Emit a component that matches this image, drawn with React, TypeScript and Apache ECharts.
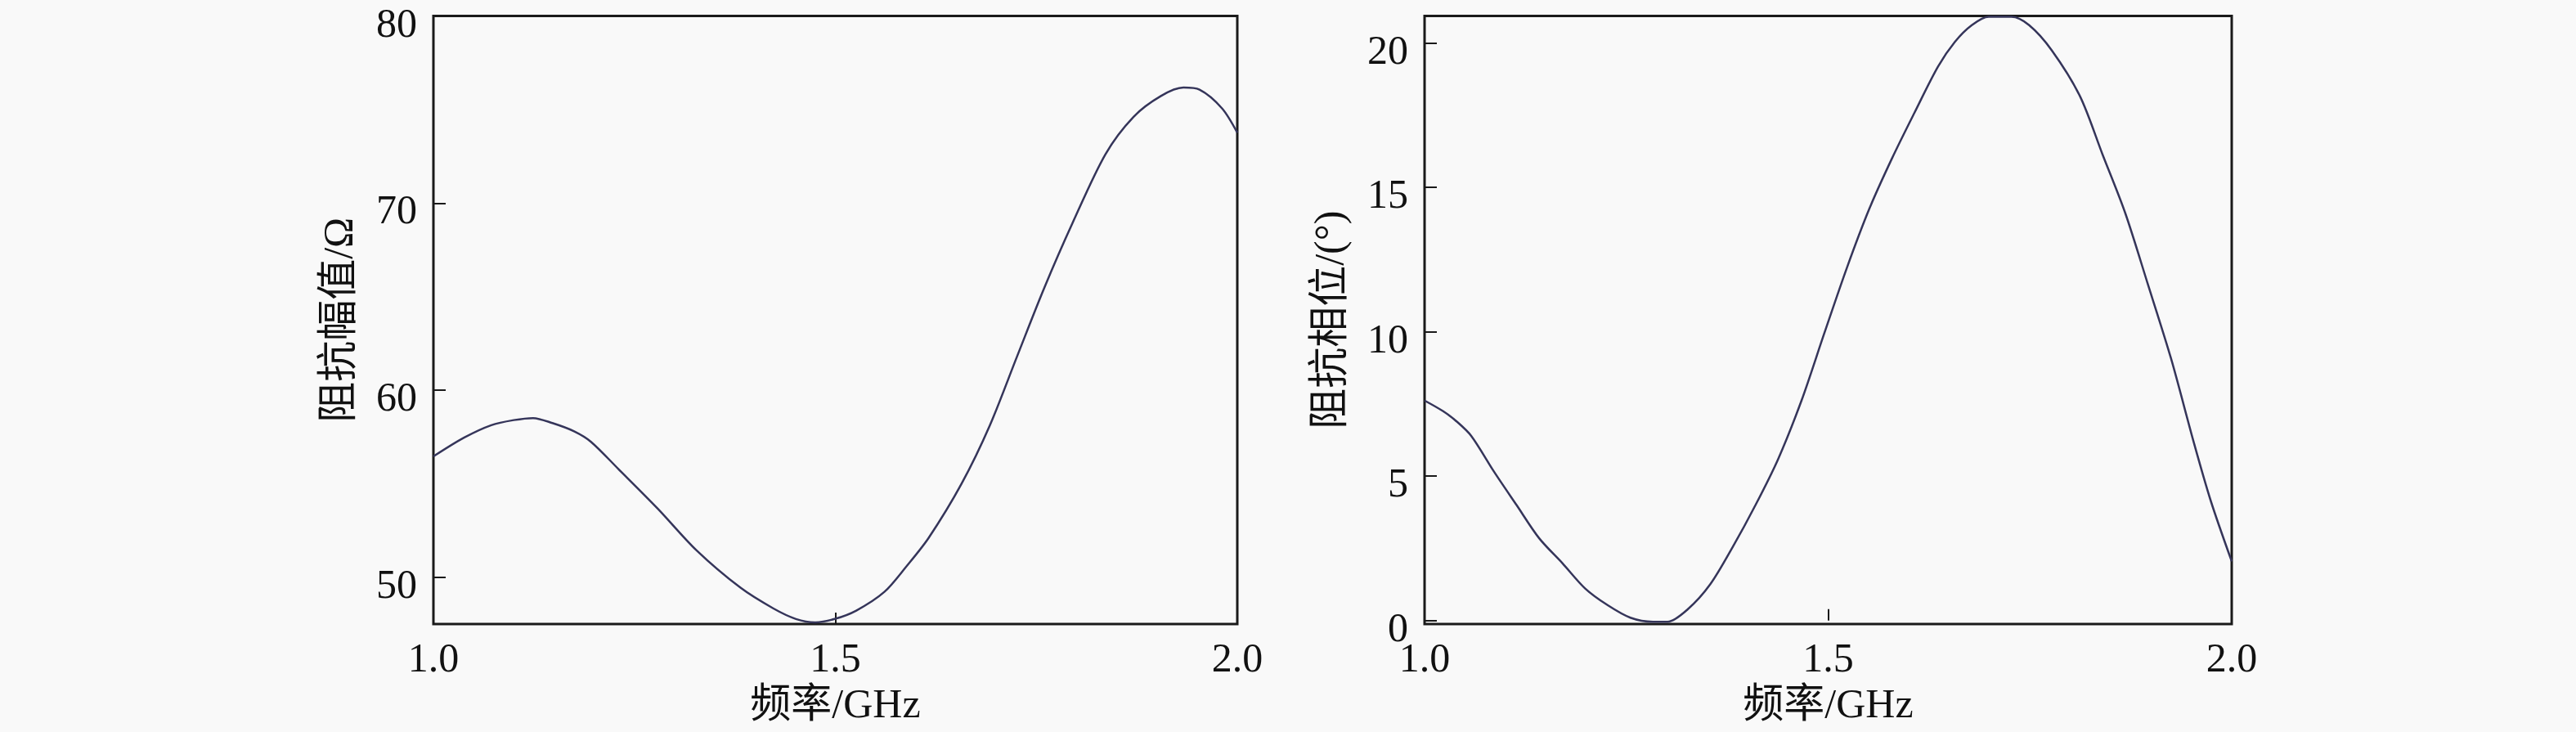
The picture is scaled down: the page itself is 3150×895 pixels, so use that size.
import React, { useEffect, useRef } from "react";
import * as echarts from "echarts";

const freqMag = [1.0, 1.038, 1.072, 1.1, 1.124, 1.148, 1.175, 1.196, 1.23, 1.279, 1.327, 1.382, 1.423, 1.451, 1.475, 1.499, 1.526, 1.561, 1.588, 1.616, 1.657, 1.692, 1.726, 1.76, 1.795, 1.836, 1.871, 1.905, 1.933, 1.953, 1.981, 2.0];
const magnitude = [56.46, 57.46, 58.13, 58.4, 58.51, 58.24, 57.8, 57.24, 55.79, 53.67, 51.45, 49.44, 48.33, 47.77, 47.59, 47.77, 48.22, 49.22, 50.56, 52.1, 55.0, 58.1, 61.8, 65.48, 68.93, 72.61, 74.61, 75.72, 76.17, 76.06, 75.06, 73.76];

const freqPhase = [1.0, 1.023, 1.04, 1.058, 1.086, 1.114, 1.142, 1.171, 1.199, 1.227, 1.255, 1.283, 1.301, 1.326, 1.354, 1.382, 1.41, 1.438, 1.467, 1.495, 1.523, 1.551, 1.579, 1.607, 1.636, 1.657, 1.678, 1.699, 1.727, 1.749, 1.777, 1.812, 1.84, 1.868, 1.896, 1.925, 1.953, 1.974, 2.0];
const phase = [7.62, 7.25, 6.89, 6.39, 5.16, 4.0, 2.85, 1.98, 1.11, 0.53, 0.1, -0.04, -0.04, 0.39, 1.26, 2.56, 4.0, 5.59, 7.62, 9.93, 12.2, 14.26, 16.0, 17.59, 19.18, 20.04, 20.62, 20.91, 20.91, 20.62, 19.75, 18.16, 16.14, 14.12, 11.66, 9.06, 6.17, 4.15, 2.05];

const xTicks = [1.0, 1.5, 2.0];
const magTicks = [50, 60, 70, 80];
const phaseTicks = [0, 5, 10, 15, 20];

const xName = "频率/GHz";
const magName = "阻抗幅值/Ω";
const phaseName = "阻抗相位/(°)";

const FONT = "'Liberation Serif', 'Noto Sans CJK SC', serif";
const TEXT = "#111111";
const AXIS = "#1a1a1a";
const LINE = "#35355a";

export default function App() {
  const ref = useRef<HTMLDivElement>(null);
  useEffect(() => {
    document.body.style.margin = "0";
    document.body.style.background = "#f9f9f9";
    const chart = echarts.init(ref.current!, null, { renderer: "svg" });
    const xAxisBase = (gridIndex: number) => ({
      gridIndex,
      type: "value",
      min: 1,
      max: 2,
      interval: 0.5,
      axisLine: { show: false },
      axisTick: { show: true, inside: true, length: 14, lineStyle: { color: AXIS, width: 2 } },
      axisLabel: {
        fontSize: 50,
        color: TEXT,
        fontFamily: FONT,
        margin: 16,
        formatter: (v: number) => v.toFixed(1),
        customValues: xTicks,
      },
      splitLine: { show: false },
      name: xName,
      nameLocation: "middle",
      nameGap: 72,
      nameTextStyle: { fontSize: 50, color: TEXT, fontFamily: FONT },
    });
    const yAxisBase = (gridIndex: number, min: number, max: number, ticks: number[], name: string) => ({
      gridIndex,
      type: "value",
      min,
      max,
      axisLine: { show: false },
      axisTick: { show: true, inside: true, length: 15, lineStyle: { color: AXIS, width: 2 }, customValues: ticks },
      axisLabel: {
        fontSize: 50,
        color: TEXT,
        fontFamily: FONT,
        margin: 20,
        verticalAlign: "top",
        lineHeight: 16,
        customValues: ticks,
      },
      splitLine: { show: false },
      name,
      nameLocation: "middle",
      nameGap: 92,
      nameTextStyle: { fontSize: 50, color: TEXT, fontFamily: FONT },
    });
    chart.setOption({
      animation: false,
      backgroundColor: "#f9f9f9",
      grid: [
        { left: 530, top: 19.5, width: 983, height: 743.5, show: true, borderColor: AXIS, borderWidth: 3, backgroundColor: "transparent" },
        { left: 1742, top: 19.5, width: 987, height: 743.5, show: true, borderColor: AXIS, borderWidth: 3, backgroundColor: "transparent" },
      ],
      xAxis: [xAxisBase(0), xAxisBase(1)],
      yAxis: [
        yAxisBase(0, 47.5, 80, magTicks, magName),
        yAxisBase(1, -0.12, 20.94, phaseTicks, phaseName),
      ],
      series: [
        {
          type: "line",
          xAxisIndex: 0,
          yAxisIndex: 0,
          data: freqMag.map((f, i) => [f, magnitude[i]]),
          showSymbol: false,
          smooth: 0.3,
          lineStyle: { color: LINE, width: 2.5 },
        },
        {
          type: "line",
          xAxisIndex: 1,
          yAxisIndex: 1,
          data: freqPhase.map((f, i) => [f, phase[i]]),
          showSymbol: false,
          smooth: 0.3,
          lineStyle: { color: LINE, width: 2.5 },
        },
      ],
    });
    return () => chart.dispose();
  }, []);
  return <div ref={ref} style={{ position: "fixed", left: 0, top: 0, width: 3150, height: 895 }} />;
}
